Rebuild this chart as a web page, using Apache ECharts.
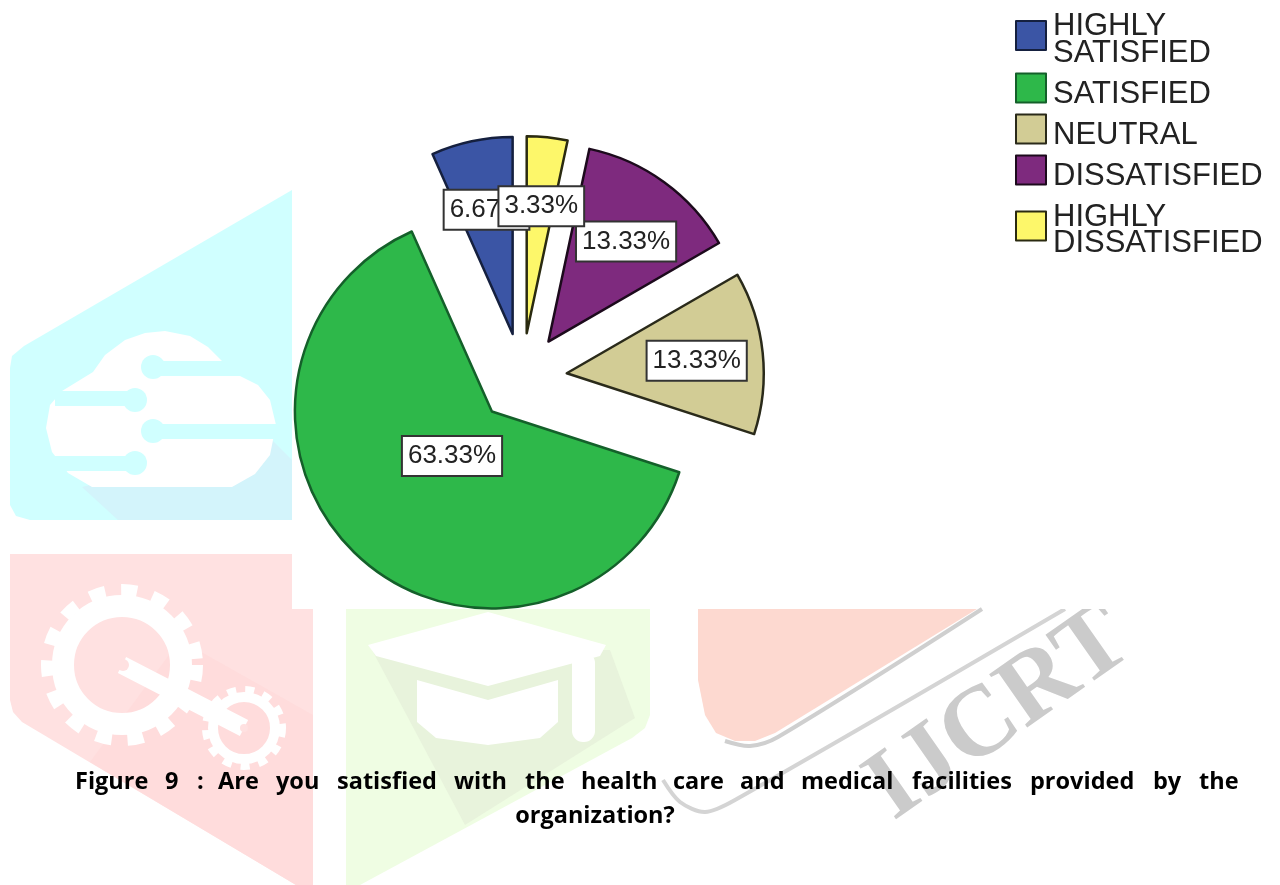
<!DOCTYPE html>
<html>
<head>
<meta charset="utf-8">
<title>Figure 9</title>
<script src="https://cdn.jsdelivr.net/npm/echarts@6/dist/echarts.min.js"></script>
<style>
html, body { margin: 0; padding: 0; background: #fff; }
#main { width: 1280px; height: 885px; }
</style>
</head>
<body>
<div id="main"></div>
<script>
// answers and their share of respondents
var answers = ['HIGHLY\nSATISFIED', 'SATISFIED', 'NEUTRAL', 'DISSATISFIED', 'HIGHLY\nDISSATISFIED'];
var shares = [6.67, 63.33, 13.33, 13.33, 3.33];
var sliceColors = ['#3b55a5', '#2eb84a', '#d2cc95', '#7e2a7e', '#fdf76a'];
var edgeColors = ['#15203f', '#14602a', '#2a2a1a', '#1c0a1c', '#2a2a10'];
var captionLine1 = ['Figure', '9', ':', 'Are', 'you', 'satisfied', 'with', 'the', 'health', 'care', 'and', 'medical', 'facilities', 'provided', 'by', 'the'];
var captionLine2 = 'organization?';

var myChart = echarts.init(document.getElementById('main'));

// label nudges away from the default inside spot
var labelNudge = [[-5, -25], [28, -31], [29, -2], [18, -18], [4, -26]];
var captionX = [75, 165, 197, 218, 276, 337, 454, 525, 581, 673, 740, 801, 912, 1030, 1153, 1199];

function polyEl(points, fill) {
    return { type: 'polygon', shape: { points: points }, style: { fill: fill }, silent: true, z: 0 };
}
function swooshEl(points, color) {
    return { type: 'polyline', shape: { points: points, smooth: 0.3 }, style: { fill: 'none', stroke: color, lineWidth: 4 }, silent: true, z: 1 };
}
function rectEl(x, y, w, h, fill) {
    return { type: 'rect', shape: { x: x, y: y, width: w, height: h }, style: { fill: fill }, silent: true, z: 1 };
}
function dotEl(x, y, r, fill) {
    return { type: 'circle', shape: { cx: x, cy: y, r: r }, style: { fill: fill }, silent: true, z: 1 };
}
function ringEl(x, y, r, width, dash) {
    return {
        type: 'circle', shape: { cx: x, cy: y, r: r }, silent: true, z: 1,
        style: { fill: 'none', stroke: '#fff', lineWidth: width, lineDash: dash || null }
    };
}

var cyan = '#d0ffff';
var pink = '#ffe1e1';
var mint = '#effde3';
var graphics = [
    // cyan cloud block
    polyEl([[10, 368], [12, 356], [24, 346], [292, 190], [292, 520], [30, 520], [16, 516], [10, 505]], cyan),
    polyEl([[82, 487], [118, 520], [292, 520], [292, 460], [272, 440]], '#d3f4fb'),
    polyEl([[62, 391], [93, 372], [105, 355], [125, 340], [145, 333], [165, 331], [190, 336], [208, 347], [222, 361], [222, 376], [240, 376], [258, 385], [270, 400], [276, 425], [270, 455], [255, 474], [232, 487], [92, 487], [68, 473], [52, 452], [46, 428], [50, 405]], '#fff'),
    rectEl(155, 361, 70, 15, cyan), dotEl(153, 367, 12, cyan),
    rectEl(55, 391, 77, 15, cyan), dotEl(135, 400, 12, cyan),
    rectEl(155, 424, 124, 15, cyan), dotEl(153, 431, 12, cyan),
    rectEl(55, 456, 77, 15, cyan), dotEl(135, 463, 12, cyan),
    // pink gear block
    polyEl([[10, 554], [292, 554], [292, 609], [313, 609], [313, 885], [296, 885], [22, 722], [13, 712], [10, 700]], pink),
    polyEl([[180, 640], [313, 715], [313, 885], [296, 885], [90, 762]], '#ffdcdc'),
    ringEl(122, 665, 59, 22),
    ringEl(122, 665, 75, 12, [16, 16]),
    ringEl(244, 728, 31, 10),
    ringEl(244, 728, 38, 8, [9, 9]),
    { type: 'line', shape: { x1: 122, y1: 665, x2: 244, y2: 728 }, style: { stroke: '#fff', lineWidth: 18 }, silent: true, z: 1 },
    dotEl(123, 665, 6, pink), dotEl(244, 728, 4, pink),
    // green cap block
    polyEl([[346, 609], [650, 609], [650, 715], [645, 728], [632, 738], [360, 885], [346, 885]], mint),
    polyEl([[372, 650], [610, 650], [635, 718], [465, 825]], '#e8f3dc'),
    polyEl([[368, 645], [488, 612], [606, 645], [600, 656], [488, 686], [376, 656]], '#fff'),
    polyEl([[417, 680], [488, 700], [558, 680], [558, 722], [540, 738], [488, 745], [436, 738], [417, 722]], '#fff'),
    { type: 'rect', shape: { x: 572, y: 652, width: 23, height: 90, r: 11 }, style: { fill: '#fff' }, silent: true, z: 1 },
    // salmon corner and grey swooshes of the IJCRT mark
    polyEl([[698, 609], [977, 609], [775, 733], [755, 741], [735, 741], [716, 733], [705, 715], [698, 680]], '#fdd9d0'),
    swooshEl([[982, 609], [778, 737], [750, 746], [725, 741]], '#cfcfcf'),
    swooshEl([[1065, 609], [735, 800], [705, 812], [680, 802], [663, 780]], '#d4d4d4'),
    {
        type: 'text', x: 1000, y: 715, rotation: 35 * Math.PI / 180, silent: true, z: 1,
        style: { text: 'IJCRT', fill: '#cbcbcb', font: 'bold 100px "Liberation Serif"', align: 'center', verticalAlign: 'middle' }
    },
    // the mark is cut off by the white figure area above it
    { type: 'rect', shape: { x: 1000, y: 580, width: 200, height: 29 }, style: { fill: '#fff' }, silent: true, z: 2 }
];

captionLine1.forEach(function (word, i) {
    graphics.push({
        type: 'text', x: captionX[i], y: 782, silent: true, z: 10,
        style: { text: word, fill: '#000', font: 'bold 23.5px "Open Sans"', verticalAlign: 'middle' }
    });
});
graphics.push({
    type: 'text', x: 595, y: 816, silent: true, z: 10,
    style: { text: captionLine2, fill: '#000', font: 'bold 23.5px "Open Sans"', align: 'center', verticalAlign: 'middle' }
});

myChart.setOption({
    animation: false,
    backgroundColor: '#fff',
    graphic: { elements: graphics },
    legend: {
        orient: 'vertical',
        left: 1015,
        top: -1,
        padding: 0,
        itemWidth: 30,
        itemHeight: 29,
        itemGap: -2,
        selectedMode: false,
        icon: 'rect',
        data: answers,
        // first line of each entry sits a little low against its swatch
        formatter: function (name) {
            return name.split('\n').map(function (line, i) {
                return (i === 0 ? '{first|' : '{rest|') + line + '}';
            }).join('\n');
        },
        textStyle: {
            color: '#222',
            fontFamily: 'Liberation Sans',
            fontSize: 31,
            rich: {
                first: { fontSize: 31, fontFamily: 'Liberation Sans', color: '#222', lineHeight: 30, padding: [12, 0, 0, 2] },
                rest: { fontSize: 31, fontFamily: 'Liberation Sans', color: '#222', lineHeight: 30, padding: [5, 0, 0, 2] }
            }
        }
    },
    series: [{
        type: 'pie',
        center: [522, 378],
        radius: 197,
        startAngle: 90,
        clockwise: false,
        selectedMode: 'multiple',
        selectedOffset: 45,
        data: answers.map(function (name, i) {
            return {
                name: name,
                value: shares[i],
                selected: true,
                itemStyle: { color: sliceColors[i], borderColor: edgeColors[i], borderWidth: 2.5 }
            };
        }),
        label: {
            show: true,
            position: 'inside',
            formatter: '{c}%',
            color: '#222',
            fontFamily: 'Liberation Sans',
            fontSize: 26,
            backgroundColor: '#fff',
            borderColor: '#333',
            borderWidth: 2,
            padding: [7, 5, 5, 5]
        },
        labelLine: { show: false },
        labelLayout: function (params) {
            return { dx: labelNudge[params.dataIndex][0], dy: labelNudge[params.dataIndex][1] };
        },
        emphasis: { disabled: true }
    }]
});
</script>
</body>
</html>
